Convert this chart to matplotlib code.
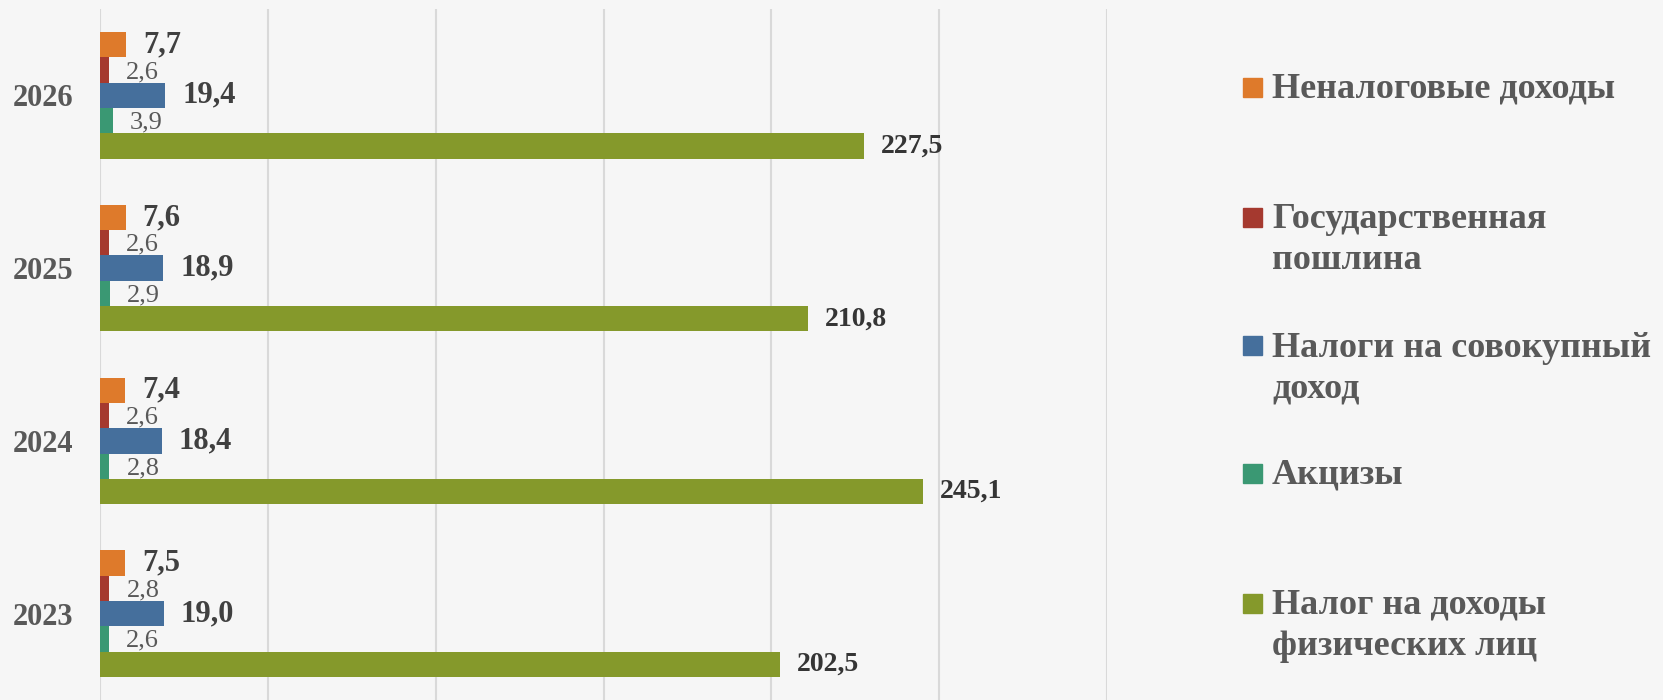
import matplotlib
matplotlib.use('Agg')
import matplotlib.pyplot as plt
from matplotlib.patches import Rectangle
import numpy as np

plt.rcParams['font.family'] = ['Liberation Serif', 'DejaVu Serif']

years = ['2023', '2024', '2025', '2026']
series_names = ['Неналоговые доходы', 'Государственная\nпошлина',
                'Налоги на совокупный\nдоход', 'Акцизы',
                'Налог на доходы\nфизических лиц']
nonttax = [7.5, 7.4, 7.6, 7.7]
duty = [2.8, 2.6, 2.6, 2.6]
aggregate_income = [19.0, 18.4, 18.9, 19.4]
excise = [2.6, 2.8, 2.9, 3.9]
ndfl = [202.5, 245.1, 210.8, 227.5]
series = [nonttax, duty, aggregate_income, excise, ndfl]

colors = ['#DE7A2B', '#A5392F', '#456F9C', '#3A9873', '#85992B']
# (fontsize, weight, colour) of the value labels for each series
label_style = [(22, 'bold', '#404040'), (19, 'normal', '#595959'),
               (22, 'bold', '#404040'), (19, 'normal', '#595959'),
               (20, 'bold', '#353535')]

BG = '#f6f6f6'
fig = plt.figure(figsize=(16.63, 7.0), dpi=100, facecolor=BG)
ax = fig.add_axes([100/1663, 0.0, 1007/1663, 691/700])
ax.set_facecolor(BG)

h = 0.1465
y = np.arange(len(years))
for k, (vals, col) in enumerate(zip(series, colors)):
    pos = y + (2 - k) * h
    ax.barh(pos, vals, height=h, color=col, zorder=3)
    fs, fw, fc = label_style[k]
    dy = 0 if fw != 'normal' else -2
    for p, v in zip(pos, vals):
        txt = f'{v:.1f}'.replace('.', ',')
        ax.annotate(txt, (v, p), xytext=(17, dy), textcoords='offset pixels',
                    va='center', ha='left', fontsize=fs, fontweight=fw,
                    color=fc)

ax.set_xlim(0, 300)
ax.set_ylim(-0.5, 3.5)
ax.set_xticks(np.arange(0, 301, 50))
ax.set_xticklabels([])
ax.tick_params(axis='x', length=0)
ax.tick_params(axis='y', length=0, pad=19)
ax.set_yticks(y)
ax.set_yticklabels(years, fontsize=22, fontweight='bold', color='#595959')
ax.grid(axis='x', color='#d9d9d9', linewidth=1.5, zorder=0)
for s in ['top', 'right', 'bottom', 'left']:
    ax.spines[s].set_visible(False)

# legend drawn by hand so multi-line labels align on their first line
leg_y = [87, 217, 346, 473, 603]
for name, col, ly in zip(series_names, colors, leg_y):
    fy = 1 - ly / 700
    fig.patches.append(Rectangle((1243/1663, fy - 9.5/700), 19/1663, 19/700,
                                 transform=fig.transFigure, color=col))
    fig.text(1272/1663, fy + 14/700, name, ha='left', va='top', fontsize=26,
             fontweight='bold', color='#595959', linespacing=1.32)

fig.savefig('out.png', dpi=100, facecolor=BG)
